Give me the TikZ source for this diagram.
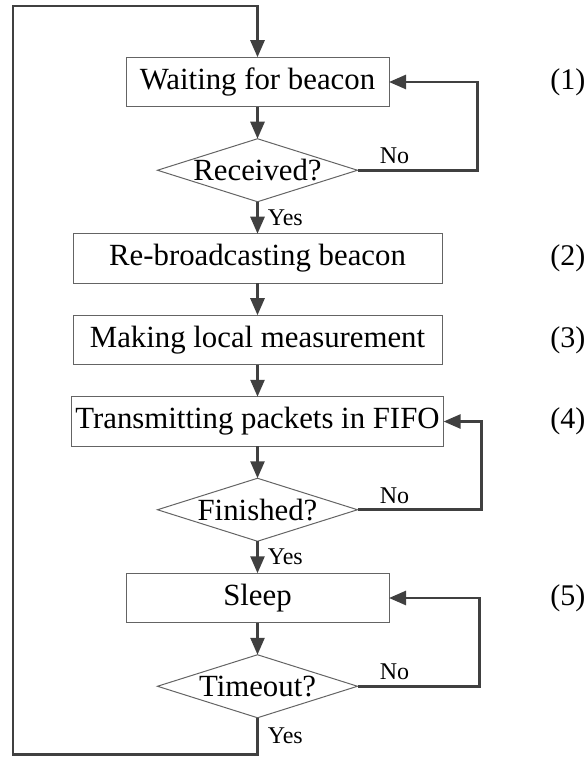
\documentclass[tikz,border=0pt]{standalone}
\usepackage{fontspec}
\setmainfont{Liberation Serif}
\usetikzlibrary{arrows.meta,positioning,shapes.geometric,calc}
\definecolor{flowgray}{RGB}{64,64,64}
\definecolor{boxgray}{RGB}{100,100,100}

\begin{document}
\begin{tikzpicture}[
  node distance=16pt,
  process/.style={draw=boxgray, line width=0.5pt, outer sep=0pt, minimum width=131.5pt,
    minimum height=24.75pt, inner sep=2pt, font=\fontsize{15.4pt}{18pt}\selectfont},
  wideprocess/.style={process, minimum width=184.5pt},
  decision/.style={diamond, draw=boxgray, line width=0.5pt, outer sep=0pt, minimum width=100pt,
    minimum height=31.5pt, inner sep=0pt, font=\fontsize{15.4pt}{18pt}\selectfont},
  flow/.style={-{Triangle[length=8.5pt,width=7pt]}, line width=1.3pt, flowgray},
  branch/.style={font=\fontsize{12pt}{14pt}\selectfont, inner sep=1pt},
  stepno/.style={font=\fontsize{15pt}{18pt}\selectfont, anchor=west, inner sep=0pt},
]
  \useasboundingbox (0,0) rectangle (292pt,-379pt);

  % Main chain
  \node[process] (wait) at (128.75pt,-41pt) {Waiting for beacon};
  \node[decision, below=of wait] (recv) {\makebox[0pt]{Received?}};
  \node[wideprocess, below=of recv] (rebc) {Re-broadcasting beacon};
  \node[wideprocess, below=of rebc] (meas) {Making local measurement};
  \node[wideprocess, below=of meas] (trans) {Transmitting packets in FIFO};
  \node[decision, below=of trans] (fin) {\makebox[0pt]{Finished?}};
  \node[process, below=of fin] (sleep) {Sleep};
  \node[decision, below=of sleep] (tout) {\makebox[0pt]{Timeout?}};

  % Arrows
  \draw[flow] (wait) -- (recv);
  \draw[flow] (recv) -- (rebc);
  \draw[flow] (rebc) -- (meas);
  \draw[flow] (meas) -- (trans);
  \draw[flow] (trans) -- (fin);
  \draw[flow] (fin) -- (sleep);
  \draw[flow] (sleep) -- (tout);

  % No loops
  \draw[flow] (recv.east) -- ++(60pt,0) |- (wait.east);
  \draw[flow] (fin.east) -- ++(62pt,0) |- (trans.east);
  \draw[flow] (tout.east) -- ++(61pt,0) |- (sleep.east);

  % Return loop
  \coordinate[below=18.5pt of tout.south] (ret);
  \coordinate (retleft) at (6.5pt,0);
  \coordinate (rettop) at (0,-3pt);
  \draw[flow] (tout.south) -- (ret) -| (retleft |- rettop) -- (wait |- rettop) -- (wait.north);

  % Branch labels
  \node[branch, above right=2pt and 10pt of recv.east] {No};
  \node[branch, above right=2pt and 10pt of fin.east] {No};
  \node[branch, above right=2pt and 10pt of tout.east] {No};
  \node[branch, anchor=west] at ($(recv.south)!0.5!(rebc.north)+(4pt,0)$) {Yes};
  \node[branch, anchor=west] at ($(fin.south)!0.5!(sleep.north)+(4pt,0)$) {Yes};
  \node[branch, anchor=west] at ($(tout.south)!0.5!(ret)+(4pt,0)$) {Yes};

  % Step numbers
  \coordinate (numcol) at (275pt,0);
  \node[stepno] at (wait -| numcol) {(1)};
  \node[stepno] at (rebc -| numcol) {(2)};
  \node[stepno] at (meas -| numcol) {(3)};
  \node[stepno] at (trans -| numcol) {(4)};
  \node[stepno] at (sleep -| numcol) {(5)};
\end{tikzpicture}
\end{document}
